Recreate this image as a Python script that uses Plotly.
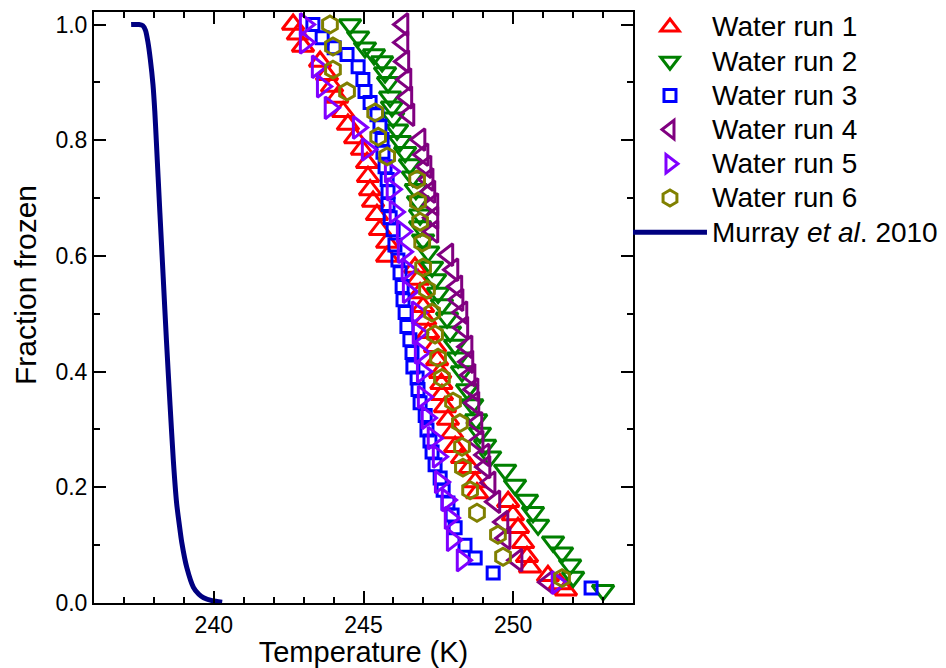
import plotly.graph_objects as go

# ---- data ----
run1_T = [242.65, 242.81, 242.98, 243.55, 243.78, 243.95, 244.12, 244.32, 244.48, 244.72,
          244.95, 245.12, 245.15, 245.22, 245.32, 245.45, 245.55, 245.79, 245.79, 246.72,
          246.82, 246.89, 246.99, 247.06, 247.16, 247.39, 247.46, 247.56, 247.60, 247.62,
          247.72, 247.82, 247.96, 248.06, 248.29, 248.56, 248.73, 248.79, 249.83, 249.99,
          250.16, 250.33, 250.46, 250.56, 251.16, 251.56, 251.76]
run1_f = [1.000, 0.983, 0.962, 0.936, 0.913, 0.893, 0.874, 0.849, 0.827, 0.804,
          0.784, 0.761, 0.737, 0.714, 0.694, 0.671, 0.645, 0.623, 0.599, 0.580,
          0.559, 0.536, 0.512, 0.490, 0.467, 0.443, 0.420, 0.398, 0.379, 0.360,
          0.339, 0.317, 0.294, 0.270, 0.251, 0.234, 0.209, 0.190, 0.175, 0.152,
          0.130, 0.104, 0.080, 0.062, 0.047, 0.033, 0.022]

run2_T = [244.55, 244.82, 245.05, 245.35, 245.62, 245.72, 245.82, 245.89, 245.95, 245.99,
          246.12, 246.22, 246.39, 246.55, 246.65, 246.75, 246.82, 246.89, 246.89, 246.99,
          247.16, 247.29, 247.39, 247.49, 247.62, 247.79, 247.89, 248.06, 248.16, 248.29,
          248.46, 248.63, 248.76, 248.89, 249.06, 249.23, 249.73, 250.06, 250.46, 250.66,
          250.83, 251.33, 251.63, 251.90, 252.00, 253.00]
run2_f = [1.000, 0.979, 0.960, 0.948, 0.936, 0.917, 0.900, 0.875, 0.858, 0.839,
          0.818, 0.798, 0.779, 0.758, 0.737, 0.715, 0.694, 0.671, 0.651, 0.628,
          0.607, 0.581, 0.559, 0.536, 0.516, 0.493, 0.469, 0.446, 0.424, 0.400,
          0.369, 0.343, 0.317, 0.294, 0.273, 0.253, 0.230, 0.204, 0.178, 0.157,
          0.135, 0.106, 0.087, 0.066, 0.045, 0.022]

run3_T = [243.31, 243.62, 244.02, 244.45, 244.82, 244.98, 245.05, 245.22, 245.45, 245.55,
          245.62, 245.65, 245.72, 245.79, 245.82, 245.82, 245.89, 245.99, 246.05, 246.15,
          246.22, 246.29, 246.32, 246.39, 246.45, 246.55, 246.62, 246.65, 246.79, 246.82,
          246.89, 247.06, 247.12, 247.22, 247.29, 247.39, 247.56, 247.66, 247.82, 247.96,
          248.06, 248.39, 248.73, 249.33, 252.60]
run3_f = [1.000, 0.977, 0.960, 0.948, 0.927, 0.905, 0.884, 0.865, 0.844, 0.824,
          0.801, 0.779, 0.754, 0.732, 0.711, 0.689, 0.666, 0.645, 0.619, 0.593,
          0.571, 0.547, 0.524, 0.502, 0.478, 0.455, 0.433, 0.408, 0.389, 0.369,
          0.346, 0.324, 0.299, 0.280, 0.261, 0.239, 0.216, 0.195, 0.173, 0.152,
          0.130, 0.100, 0.078, 0.052, 0.026]

run4_T = [246.32, 246.32, 246.35, 246.42, 246.45, 246.52, 246.89, 246.99, 247.09, 247.16,
          247.22, 247.32, 247.32, 247.32, 247.82, 247.99, 248.12, 248.16, 248.29, 248.32,
          248.46, 248.49, 248.56, 248.66, 248.69, 248.79, 248.83, 249.03, 249.06, 249.23,
          249.39, 249.66, 249.73, 250.13, 251.16]
run4_f = [1.000, 0.969, 0.936, 0.905, 0.874, 0.844, 0.801, 0.775, 0.754, 0.732,
          0.711, 0.689, 0.666, 0.642, 0.602, 0.576, 0.547, 0.524, 0.502, 0.476,
          0.443, 0.417, 0.394, 0.369, 0.346, 0.311, 0.279, 0.256, 0.235, 0.208,
          0.175, 0.140, 0.112, 0.074, 0.036]

run5_T = [243.05, 243.05, 243.45, 243.62, 243.88, 244.82, 245.12, 245.89, 245.95, 246.05,
          246.29, 246.32, 246.45, 246.49, 246.79, 246.82, 246.89, 246.96, 246.99, 247.12,
          247.32, 247.49, 247.56, 247.79, 247.89, 247.96, 248.29, 251.46]
run5_f = [1.000, 0.969, 0.927, 0.893, 0.856, 0.822, 0.784, 0.746, 0.715, 0.676,
          0.642, 0.607, 0.576, 0.538, 0.502, 0.467, 0.433, 0.400, 0.356, 0.320,
          0.285, 0.253, 0.209, 0.178, 0.147, 0.109, 0.074, 0.035]

run6_T = [243.88, 243.98, 243.98, 244.45, 245.39, 245.49, 245.79, 246.79, 246.82, 246.89,
          246.96, 246.99, 247.12, 247.29, 247.39, 247.49, 247.62, 247.99, 248.22, 248.29,
          248.32, 248.56, 248.79, 249.49, 249.66, 251.63]
run6_f = [1.000, 0.962, 0.922, 0.884, 0.848, 0.806, 0.772, 0.732, 0.694, 0.659,
          0.623, 0.580, 0.542, 0.502, 0.464, 0.424, 0.389, 0.348, 0.311, 0.270,
          0.234, 0.195, 0.156, 0.118, 0.080, 0.043]

murray_T = [237.24, 237.50, 237.63, 237.72, 237.80, 237.88, 237.97, 238.03, 238.08, 238.20,
            238.31, 238.42, 238.54, 238.65, 238.76, 238.85, 238.93, 239.10, 239.32, 239.50,
            239.66, 239.95, 240.28]
murray_f = [1.0, 1.0, 0.998, 0.99, 0.97, 0.94, 0.896, 0.85, 0.80, 0.675,
            0.564, 0.453, 0.342, 0.246, 0.172, 0.135, 0.105, 0.061, 0.027, 0.015,
            0.009, 0.004, 0.0015]

x_tickvals = [240, 245, 250]
y_tickvals = [0.0, 0.2, 0.4, 0.6, 0.8, 1.0]
y_ticktext = ["0.0", "0.2", "0.4", "0.6", "0.8", "1.0"]

runs = [
    ("Water run 1", run1_T, run1_f, "triangle-up-open", "#FF0000", 19),
    ("Water run 2", run2_T, run2_f, "triangle-down-open", "#008000", 19),
    ("Water run 3", run3_T, run3_f, "square-open", "#0000FF", 12),
    ("Water run 4", run4_T, run4_f, "triangle-left-open", "#800080", 19),
    ("Water run 5", run5_T, run5_f, "triangle-right-open", "#8000FF", 19),
    ("Water run 6", run6_T, run6_f, "hexagon-open", "#808000", 17),
]

FONT = "Liberation Sans, Arial, sans-serif"
LEG = '<span style="font-size:28px">{}</span>'

fig = go.Figure()
for name, T, f, sym, col, sz in runs:
    fig.add_trace(go.Scatter(
        x=T, y=f, mode="markers", name=LEG.format(name),
        marker=dict(symbol=sym, size=sz, color=col, line=dict(width=3, color=col)),
    ))

fig.add_trace(go.Scatter(
    x=murray_T, y=murray_f, mode="lines", name=LEG.format("Murray <i>et al</i>. 2010"),
    line=dict(color="#000080", width=5, shape="spline", smoothing=0.6),
))

axis_common = dict(
    showline=True, linecolor="black", linewidth=2, mirror="ticks",
    ticks="inside", ticklen=12, tickwidth=2, tickcolor="black",
    showgrid=False, zeroline=False,
    tickfont=dict(family=FONT, size=23, color="black"),
)

fig.update_layout(
    width=946, height=668,
    template="none",
    paper_bgcolor="white", plot_bgcolor="white",
    margin=dict(l=94, r=313, t=12, b=65, autoexpand=False),
    font=dict(family=FONT, color="black"),
    xaxis=dict(
        range=[236, 254], tickvals=x_tickvals,
        minor=dict(dtick=1, ticks="inside", ticklen=6, tickwidth=2, tickcolor="black"),
        title=dict(text="Temperature (K)", font=dict(family=FONT, size=29), standoff=7),
        automargin=False,
        **axis_common,
    ),
    yaxis=dict(
        range=[0, 1.0216], tickvals=y_tickvals, ticktext=y_ticktext,
        minor=dict(dtick=0.1, ticks="inside", ticklen=6, tickwidth=2, tickcolor="black"),
        automargin=False,
        **axis_common,
    ),
    annotations=[dict(
        text="Fraction frozen", textangle=-90, showarrow=False,
        xref="paper", yref="paper", x=-0.128, y=0.538,
        xanchor="center", yanchor="middle",
        font=dict(family=FONT, size=30, color="black"),
    )],
    legend=dict(
        x=0.9907, y=1.012, xanchor="left", yanchor="top",
        font=dict(family=FONT, size=24, color="black"),
        bgcolor="rgba(0,0,0,0)", borderwidth=0,
        tracegroupgap=0, itemwidth=74,
    ),
    showlegend=True,
)

fig.write_html("out.html")
